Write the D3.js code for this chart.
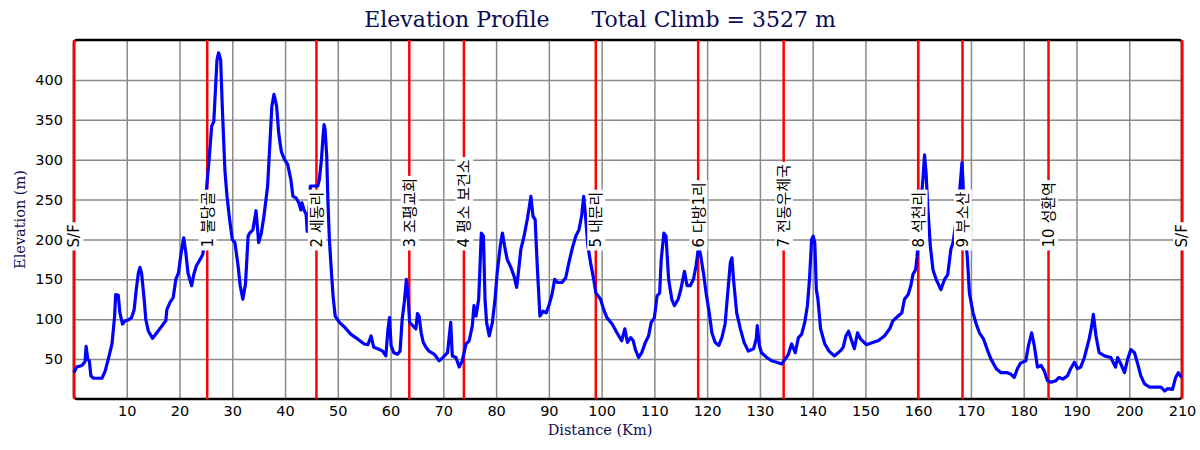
<!DOCTYPE html>
<html lang="ko">
<head>
<meta charset="UTF-8">
<title>Elevation Profile</title>
<script src="https://d3js.org/d3.v7.min.js"></script>
<style>
  body { margin: 0; background: #fff; }
</style>
</head>
<body>
<div id="chart-container"></div>
<script>
// profile samples
const distanceKm = [
  0, 0.5, 1.5, 2.1, 2.3, 2.6, 2.9, 3.2, 3.7, 5.3,
  5.9, 6.5, 7.2, 7.7, 7.9, 8.4, 8.7, 9.2, 9.7, 10.3,
  10.9, 11.4, 11.8, 12.2, 12.5, 12.8, 13.3, 13.6, 14.1, 14.9,
  15.7, 16.6, 17.4, 17.6, 18.2, 18.8, 19.3, 19.8, 20.3, 20.8,
  21.2, 21.6, 22.3, 22.7, 23.2, 23.9, 24.4, 24.8, 25.1, 25.6,
  26.1, 26.5, 26.8, 27.1, 27.4, 27.8, 28.1, 28.6, 29.0, 29.5,
  30.0, 30.5, 31.1, 31.5, 32.0, 32.5, 33.0, 33.3, 33.9, 34.5,
  35.0, 35.5, 36.0, 36.7, 37.1, 37.5, 37.9, 38.4, 38.8, 39.3,
  39.9, 40.5, 41.1, 41.5, 42.1, 42.6, 43.0, 43.2, 43.6, 44.0,
  44.2, 44.5, 44.8, 45.8, 46.2, 46.5, 46.9, 47.2, 47.4, 47.6,
  47.9, 48.1, 48.4, 48.8, 49.1, 49.5, 50.3, 51.3, 52.5, 53.8,
  55.0, 55.7, 56.3, 56.8, 57.6, 58.5, 59.1, 59.5, 59.8, 60.1,
  60.6, 61.3, 61.8, 62.2, 62.6, 63.0, 63.4, 63.6, 64.2, 64.8,
  65.1, 65.4, 65.8, 66.2, 66.7, 67.3, 68.3, 69.2, 69.8, 70.2,
  70.8, 71.4, 71.7, 72.4, 73.0, 73.6, 74.3, 74.9, 75.5, 75.8,
  76.2, 76.7, 76.9, 77.2, 77.6, 77.9, 78.2, 78.7, 79.3, 79.8,
  80.2, 80.8, 81.2, 81.6, 82.1, 82.8, 83.4, 83.9, 84.3, 84.7,
  85.3, 85.9, 86.2, 86.6, 87.0, 87.4, 87.8, 88.3, 88.9, 89.5,
  90.0, 90.6, 91.1, 91.6, 92.5, 93.2, 93.8, 94.4, 95.1, 95.7,
  96.2, 96.6, 96.9, 97.4, 97.9, 98.5, 98.9, 99.8, 100.4, 101.0,
  102.0, 102.9, 103.8, 104.4, 104.9, 105.5, 106.0, 106.4, 107.0, 107.6,
  108.3, 108.9, 109.4, 110.0, 110.5, 111.0, 111.3, 111.8, 112.2, 112.7,
  113.3, 113.8, 114.5, 115.0, 115.7, 116.2, 116.8, 117.4, 117.9, 118.4,
  118.8, 119.3, 119.8, 120.4, 120.9, 121.5, 122.2, 122.8, 123.4, 123.9,
  124.4, 124.7, 125.0, 125.6, 126.3, 127.0, 127.8, 128.8, 129.3, 129.5,
  129.9, 130.3, 131.3, 132.2, 133.2, 134.1, 134.8, 135.4, 136.0, 136.7,
  137.3, 137.9, 138.5, 139.0, 139.4, 139.8, 140.1, 140.4, 140.7, 141.0,
  141.5, 142.3, 143.1, 144.1, 145.2, 145.8, 146.3, 146.8, 147.3, 147.9,
  148.5, 149.1, 150.2, 151.5, 152.4, 153.6, 154.6, 155.2, 156.2, 156.9,
  157.4, 158.1, 158.6, 159.0, 159.5, 159.8, 160.4, 160.9, 161.2, 161.5,
  161.8, 162.3, 162.8, 163.4, 164.3, 165.0, 165.6, 166.2, 166.6, 166.9,
  167.6, 168.3, 168.5, 168.8, 169.3, 169.7, 170.4, 171.0, 171.6, 172.4,
  173.2, 173.8, 174.8, 175.7, 176.9, 177.6, 178.2, 178.8, 179.4, 180.4,
  180.9, 181.5, 182.0, 182.6, 183.3, 183.9, 184.5, 185.2, 186.1, 186.7,
  187.4, 188.3, 188.9, 189.6, 190.2, 190.8, 191.5, 192.4, 192.9, 193.2,
  193.7, 194.3, 195.3, 196.5, 197.4, 197.8, 198.4, 199.1, 199.7, 200.3,
  201.0, 201.6, 202.2, 202.9, 203.8, 205.1, 206.0, 206.7, 207.3, 208.2,
  208.8, 209.3, 209.9
];
const elevationM = [
  33, 40, 42, 47, 66, 50, 48, 29, 26, 26,
  35, 50, 69, 104, 131, 130, 108, 94, 98, 99,
  102, 112, 137, 158, 165, 158, 125, 100, 85, 76,
  83, 91, 98, 112, 121, 127, 150, 158, 183, 202,
  183, 158, 142, 156, 167, 175, 181, 200, 262, 300,
  342, 348, 387, 425, 434, 425, 367, 287, 254, 225,
  200, 196, 167, 142, 125, 144, 204, 208, 212, 236,
  196, 208, 229, 267, 317, 367, 382, 367, 333, 310,
  300, 294, 275, 254, 252, 246, 237, 246, 237, 231,
  210, 233, 267, 267, 267, 275, 300, 329, 344, 337,
  304, 254, 200, 158, 129, 104, 96, 90, 81, 75,
  69, 68, 79, 65, 63, 60, 54, 87, 102, 67,
  58, 56, 60, 100, 121, 150, 121, 96, 92, 88,
  107, 104, 83, 71, 65, 60, 56, 48, 51, 54,
  58, 96, 54, 52, 40, 48, 69, 73, 92, 117,
  104, 125, 158, 208, 204, 125, 96, 79, 96, 125,
  158, 192, 208, 192, 175, 165, 154, 140, 163, 188,
  204, 225, 237, 254, 229, 225, 167, 104, 110, 108,
  117, 131, 150, 146, 146, 152, 171, 188, 204, 212,
  229, 254, 233, 192, 171, 150, 133, 125, 112, 102,
  94, 83, 73, 88, 71, 77, 73, 62, 52, 58,
  71, 79, 96, 102, 129, 133, 175, 208, 204, 150,
  125, 117, 125, 137, 160, 142, 142, 150, 167, 192,
  179, 158, 133, 108, 83, 71, 67, 77, 94, 133,
  171, 177, 150, 108, 88, 71, 60, 63, 75, 92,
  67, 58, 52, 48, 46, 44, 50, 56, 69, 58,
  77, 81, 96, 117, 150, 200, 204, 196, 137, 125,
  88, 69, 60, 54, 60, 65, 79, 85, 75, 63,
  83, 75, 68, 71, 73, 79, 88, 98, 104, 108,
  125, 131, 142, 156, 162, 179, 240, 275, 306, 283,
  242, 192, 162, 150, 137, 150, 156, 188, 196, 210,
  240, 296, 271, 217, 179, 133, 108, 94, 83, 75,
  60, 50, 38, 33, 33, 31, 27, 38, 45, 48,
  67, 83, 67, 40, 42, 35, 23, 21, 23, 27,
  25, 29, 38, 46, 38, 40, 52, 75, 92, 106,
  79, 58, 54, 52, 40, 52, 44, 33, 50, 62,
  58, 44, 29, 19, 15, 15, 15, 10, 13, 12,
  27, 33, 27
];

// checkpoints
const markerKm = [0, 25.25, 45.95, 63.55, 73.9, 98.9, 118.3, 134.5, 160, 168.4, 184.7, 210];
const markerLabels = ["S/F", "1 불당골", "2 세동리", "3 조평교회", "4 평소 보건소", "5 내문리",
  "6 다방1리", "7 전동우체국", "8 석천리", "9 부소산", "10 성환역", "S/F"];

const xTicks = [10, 20, 30, 40, 50, 60, 70, 80, 90, 100, 110, 120, 130, 140, 150, 160, 170, 180, 190, 200, 210];
const yTicks = [50, 100, 150, 200, 250, 300, 350, 400];

const titleText = "Elevation Profile      Total Climb = 3527 m";

const width = 1200, height = 450;
const margin = { top: 40, right: 16, bottom: 51, left: 74 };
const serif = "'DejaVu Serif', 'Liberation Serif', serif";
const sans = "'DejaVu Sans', 'Noto Sans CJK KR', sans-serif";
const navy = "#0c0c52";

const svg = d3.select("#chart-container")
  .append("svg")
  .attr("width", width)
  .attr("height", height)
  .style("display", "block");

const x = d3.scaleLinear()
  .domain([0, 210])
  .range([margin.left, width - margin.right - 2]);

const y = d3.scaleLinear()
  .domain([0, 450])
  .range([height - margin.bottom, margin.top]);

const plotW = x.range()[1] - x.range()[0];
const plotH = y.range()[0] - y.range()[1];

// grid + x axis
const xAxis = svg.append("g")
  .attr("transform", "translate(0," + y.range()[0] + ")")
  .call(d3.axisBottom(x).tickValues(xTicks).tickSize(-plotH).tickPadding(7));
xAxis.select(".domain").remove();
xAxis.selectAll("line").attr("stroke", "#8a8a8a").attr("stroke-width", 1.5);
xAxis.selectAll("text").style("font-family", sans).style("font-size", "14.5px").attr("fill", "#000");

// grid + y axis
const yAxis = svg.append("g")
  .attr("transform", "translate(" + x.range()[0] + ",0)")
  .call(d3.axisLeft(y).tickValues(yTicks).tickSize(-plotW).tickPadding(11));
yAxis.select(".domain").remove();
yAxis.selectAll("line").attr("stroke", "#8a8a8a").attr("stroke-width", 1.5);
yAxis.selectAll("text").style("font-family", sans).style("font-size", "14.5px").attr("fill", "#000");

// frame
svg.append("rect")
  .attr("x", x.range()[0])
  .attr("y", y.range()[1])
  .attr("width", plotW)
  .attr("height", plotH)
  .attr("rx", 3)
  .attr("fill", "none")
  .attr("stroke", "#000")
  .attr("stroke-width", 2.5);

// checkpoint lines
svg.append("g")
  .selectAll("line")
  .data(markerKm)
  .enter().append("line")
  .attr("x1", d => x(d))
  .attr("x2", d => x(d))
  .attr("y1", y.range()[1])
  .attr("y2", y.range()[0])
  .attr("stroke", "#ff0000")
  .attr("stroke-width", 2.5);

// profile
const profile = distanceKm.map((d, i) => ({ km: d, m: elevationM[i] }));
const line = d3.line()
  .x(d => x(d.km))
  .y(d => y(d.m));

svg.append("path")
  .datum(profile)
  .attr("fill", "none")
  .attr("stroke", "#0000ff")
  .attr("stroke-width", 3.2)
  .attr("stroke-linejoin", "round")
  .attr("d", line);

// checkpoint labels
const labelBase = y(190);
const labels = svg.append("g")
  .selectAll("g")
  .data(markerKm)
  .enter().append("g")
  .attr("transform", d => "translate(" + x(d) + "," + labelBase + ") rotate(-90)");

labels.append("rect").attr("fill", "#fff");
labels.append("text")
  .attr("x", 0)
  .attr("y", 0)
  .attr("dy", "0.36em")
  .style("font-family", sans)
  .style("font-size", "15px")
  .attr("fill", "#000")
  .text((d, i) => markerLabels[i]);

labels.each(function() {
  const g = d3.select(this);
  const b = g.select("text").node().getBBox();
  g.select("rect")
    .attr("x", b.x - 3)
    .attr("y", b.y)
    .attr("width", b.width + 5)
    .attr("height", b.height);
});

// title
svg.append("text")
  .attr("x", width / 2)
  .attr("y", 27)
  .attr("text-anchor", "middle")
  .style("white-space", "pre")
  .style("font-family", serif)
  .style("font-size", "22px")
  .attr("fill", navy)
  .text(titleText);

// axis titles
svg.append("text")
  .attr("x", width / 2)
  .attr("y", 435)
  .attr("text-anchor", "middle")
  .style("font-family", serif)
  .style("font-size", "14.5px")
  .attr("fill", navy)
  .text("Distance (Km)");

svg.append("text")
  .attr("transform", "translate(25," + y(225) + ") rotate(-90)")
  .attr("text-anchor", "middle")
  .style("font-family", serif)
  .style("font-size", "14.5px")
  .attr("fill", navy)
  .text("Elevation (m)");
</script>
</body>
</html>
